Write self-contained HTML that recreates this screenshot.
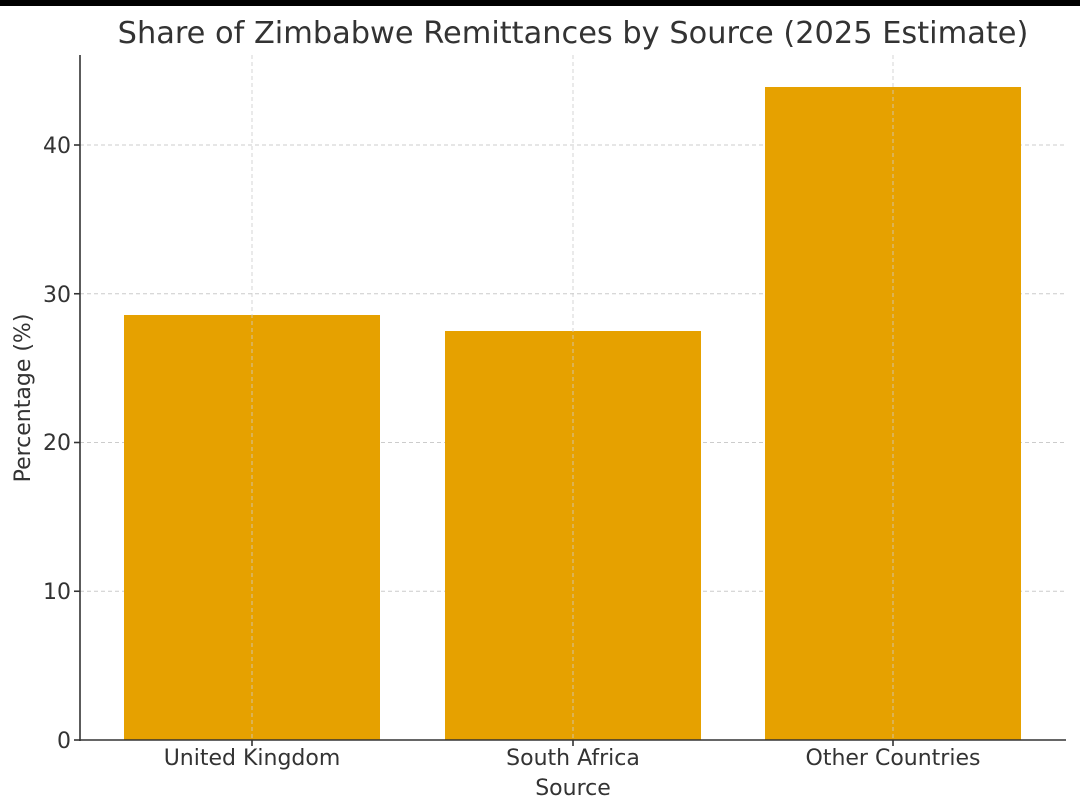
<!DOCTYPE html>
<html><head><style>body{margin:0;background:#fff}</style></head><body>
<svg width="1080" height="806" xmlns="http://www.w3.org/2000/svg" font-family="DejaVu Sans, Liberation Sans, sans-serif">
<rect x="0" y="0" width="1080" height="6" fill="#000"/>
<g stroke="#ccc" stroke-width="1" stroke-dasharray="4,3">
<line x1="80" x2="1066" y1="591.25" y2="591.25"/>
<line x1="80" x2="1066" y1="442.5" y2="442.5"/>
<line x1="80" x2="1066" y1="293.75" y2="293.75"/>
<line x1="80" x2="1066" y1="145" y2="145"/>
</g>
<rect x="124" y="315" width="256" height="425" fill="#e6a100"/>
<rect x="445" y="331" width="256" height="409" fill="#e6a100"/>
<rect x="765" y="87" width="256" height="653" fill="#e6a100"/>
<g stroke="#ccc" stroke-width="1" stroke-dasharray="4,3" opacity="0.8">
<line x1="252" x2="252" y1="55" y2="740"/>
<line x1="573" x2="573" y1="55" y2="740"/>
<line x1="893" x2="893" y1="55" y2="740"/>
</g>
<g stroke="#333" stroke-width="1.6">
<line x1="80" x2="80" y1="55" y2="741"/>
<line x1="79" x2="1066" y1="740" y2="740"/>
<line x1="74" x2="80" y1="740" y2="740"/><line x1="74" x2="80" y1="591.25" y2="591.25"/>
<line x1="74" x2="80" y1="442.5" y2="442.5"/><line x1="74" x2="80" y1="293.75" y2="293.75"/>
<line x1="74" x2="80" y1="145" y2="145"/>
<line x1="252" x2="252" y1="740" y2="746"/><line x1="573" x2="573" y1="740" y2="746"/><line x1="893" x2="893" y1="740" y2="746"/>
</g>
<g fill="#333" font-size="22">
<g text-anchor="end"><text x="71" y="748">0</text><text x="71" y="599">10</text><text x="71" y="450">20</text><text x="71" y="302">30</text><text x="71" y="153">40</text></g>
<g text-anchor="middle"><text x="252" y="765">United Kingdom</text><text x="573" y="765">South Africa</text><text x="893" y="765">Other Countries</text>
<text x="573" y="795">Source</text>
<text transform="translate(30,398) rotate(-90)">Percentage (%)</text>
<text x="573" y="43" font-size="30.4">Share of Zimbabwe Remittances by Source (2025 Estimate)</text></g>
</g>
</svg>
</body></html>
